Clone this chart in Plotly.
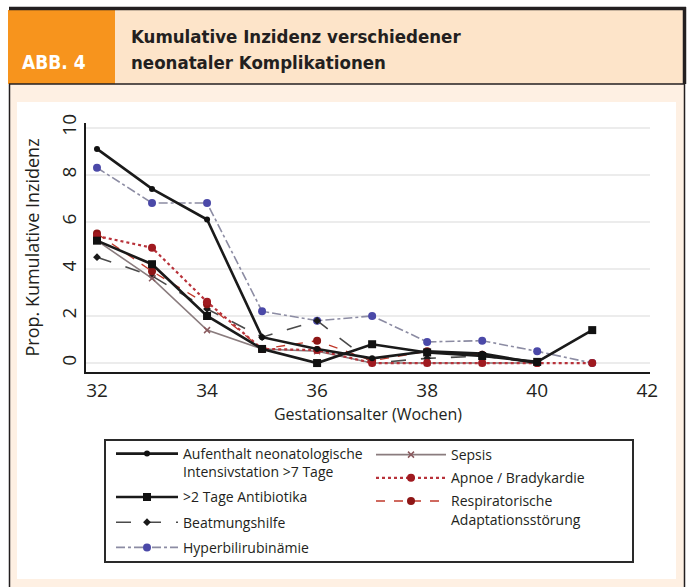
import plotly.graph_objects as go

weeks = [32, 33, 34, 35, 36, 37, 38, 39, 40, 41]

nicu = [9.1, 7.4, 6.1, 1.1, 0.6, 0.2, 0.5, 0.4, 0.0, None]
antibiotika = [5.2, 4.2, 2.0, 0.6, 0.0, 0.8, 0.45, 0.3, 0.05, 1.4]
beatmung = [4.5, 3.7, 2.3, 1.1, 1.8, 0.0, 0.2, 0.3, 0.0, None]
hyperbili = [8.3, 6.8, 6.8, 2.2, 1.8, 2.0, 0.9, 0.95, 0.5, 0.0]
sepsis = [5.2, 3.6, 1.4, 0.6, 0.5, 0.0, 0.0, 0.0, 0.0, None]
apnoe = [5.4, 4.9, 2.6, 0.6, 0.55, 0.0, 0.0, 0.0, 0.0, 0.0]
respir = [5.5, 3.9, 2.5, 0.6, 0.95, 0.1, 0.5, 0.35, 0.0, None]

names = {
    "nicu": "Aufenthalt neonatologische<br>Intensivstation >7 Tage",
    "anti": ">2 Tage Antibiotika",
    "beat": "Beatmungshilfe",
    "hyper": "Hyperbilirubinämie",
    "sepsis": "Sepsis",
    "apnoe": "Apnoe / Bradykardie",
    "resp": "Respiratorische<br>Adaptationsstörung",
}

x_ticks = [32, 34, 36, 38, 40, 42]
y_ticks = [0, 2, 4, 6, 8, 10]

FONT = "Open Sans, Lato, sans-serif"
COND = "DejaVu Sans Condensed"
DARK = "#231f20"

W_FIG, H_FIG = 692, 587
L, R_PX, T, B_PX = 86, 650, 123, 372

def PX(px):
    return (px - L) / (R_PX - L)

def PY(py):
    return (B_PX - py) / (B_PX - T)

fig = go.Figure()

def add(y, name, color, width, dash, msym, msize, mcolor, legend, rank):
    fig.add_trace(go.Scatter(
        x=weeks, y=y, name=name, mode="lines+markers",
        line=dict(color=color, width=width, dash=dash),
        marker=dict(symbol=msym, size=msize, color=mcolor,
                    line=dict(width=1.5 if msym == "x-thin" else 0, color=mcolor)),
        legend=legend, legendrank=rank, legendgroup=name, connectgaps=False,
    ))

add(hyperbili, names["hyper"], "#8c8ca3", 1.6, "dashdot", "circle", 8, "#4b49a8", "legend", 4)
add(beatmung, names["beat"], "#4a4a4a", 1.6, "longdash", "diamond", 6, "#1a1a1a", "legend", 3)
add(sepsis, names["sepsis"], "#8a7c7e", 1.6, "solid", "x-thin", 6, "#8a5a5e", "legend2", 1)
add(respir, names["resp"], "#c0392b", 1.3, "dash", "circle", 8, "#8e1616", "legend2", 3)
add(apnoe, names["apnoe"], "#b8323a", 2.2, "dot", "circle", 8, "#a01a20", "legend2", 2)
add(nicu, names["nicu"], "#1a1a1a", 2.6, "solid", "circle", 6, "#111111", "legend", 1)
add(antibiotika, names["anti"], "#1a1a1a", 2.6, "solid", "square", 8, "#111111", "legend", 2)

shapes = []
def rect(x0, y0, x1, y1, fill=None, line_color=None, lw=0, layer="below"):
    shapes.append(dict(type="rect", xref="paper", yref="paper",
                       x0=PX(x0), x1=PX(x1), y0=PY(y1), y1=PY(y0),
                       fillcolor=fill, line=dict(color=line_color or "rgba(0,0,0,0)", width=lw),
                       layer=layer))

def hline(x0, x1, y, color, lw, layer="below"):
    shapes.append(dict(type="line", xref="paper", yref="paper",
                       x0=PX(x0), x1=PX(x1), y0=PY(y), y1=PY(y),
                       line=dict(color=color, width=lw), layer=layer))

def vline(x, y0, y1, color, lw, layer="below"):
    shapes.append(dict(type="line", xref="paper", yref="paper",
                       x0=PX(x), x1=PX(x), y0=PY(y0), y1=PY(y1),
                       line=dict(color=color, width=lw), layer=layer))

# panels
rect(10, 84, 684, 590, fill="#fef0e3")
rect(17, 102, 676, 579, fill="#ffffff")
rect(115, 10, 684, 84, fill="#fde4c9")
rect(8, 10, 115, 84, fill="#f7941d")
# frame lines
hline(9, 686, 8.5, DARK, 3.5)
hline(9, 684, 84, DARK, 1.5)
vline(9.5, 84, 590, DARK, 1.5)
vline(684.5, 7, 84, DARK, 3.5)
vline(684.5, 84, 590, DARK, 1.5)
# legend box
rect(105, 440, 633, 562, fill=None, line_color="#2a2a2a", lw=2, layer="above")

annotations = [
    dict(text="<b>ABB. 4</b>", x=PX(20), y=PY(62), xref="paper", yref="paper",
         xanchor="left", yanchor="middle", showarrow=False,
         font=dict(family=COND, size=19, color="#ffffff")),
    dict(text="<b>Kumulative Inzidenz verschiedener</b>", x=PX(129), y=PY(36),
         xref="paper", yref="paper", xanchor="left", yanchor="middle", showarrow=False,
         font=dict(family=COND, size=18.5, color=DARK)),
    dict(text="<b>neonataler Komplikationen</b>", x=PX(129), y=PY(62),
         xref="paper", yref="paper", xanchor="left", yanchor="middle", showarrow=False,
         font=dict(family=COND, size=18.5, color=DARK)),
]

fig.update_layout(
    width=W_FIG, height=H_FIG,
    margin=dict(l=L, r=W_FIG - R_PX, t=T, b=H_FIG - B_PX, pad=0),
    paper_bgcolor="#ffffff", plot_bgcolor="rgba(0,0,0,0)",
    font=dict(family=FONT, color=DARK),
    shapes=shapes, annotations=annotations,
    showlegend=True,
    legend=dict(x=PX(111), y=PY(438), xanchor="left", yanchor="top",
                bgcolor="rgba(0,0,0,0)", font=dict(family=FONT, size=14, color=DARK),
                valign="top", tracegroupgap=4, itemwidth=62,
                traceorder="grouped"),
    legend2=dict(x=PX(371), y=PY(439), xanchor="left", yanchor="top",
                 bgcolor="rgba(0,0,0,0)", font=dict(family=FONT, size=14, color=DARK),
                 valign="top", tracegroupgap=2, itemwidth=70,
                 traceorder="grouped"),
)

fig.update_xaxes(
    range=[31.8, 42.05], tickvals=x_ticks, ticktext=[str(v) for v in x_ticks],
    showline=True, linecolor="#1a1a1a", linewidth=2, showgrid=False, zeroline=False,
    ticks="", tickfont=dict(size=19, family=FONT, color=DARK), automargin=False,
    title=dict(text="Gestationsalter (Wochen)", font=dict(size=16, family=FONT, color=DARK), standoff=4),
)
fig.update_yaxes(
    range=[-0.38, 10.2], tickvals=y_ticks, ticktext=[str(v) for v in y_ticks],
    tickangle=-90, showline=True, linecolor="#1a1a1a", linewidth=2,
    showgrid=True, gridcolor="#ececec", gridwidth=2, zeroline=False,
    ticks="", tickfont=dict(size=19, family=FONT, color=DARK), automargin=False,
    title=dict(text="Prop. Kumulative Inzidenz", font=dict(size=18, family=FONT, color=DARK), standoff=12),
)

fig.write_html("out.html", config={"displayModeBar": False},
               post_script="document.body.style.margin='0';document.body.style.padding='0';")
